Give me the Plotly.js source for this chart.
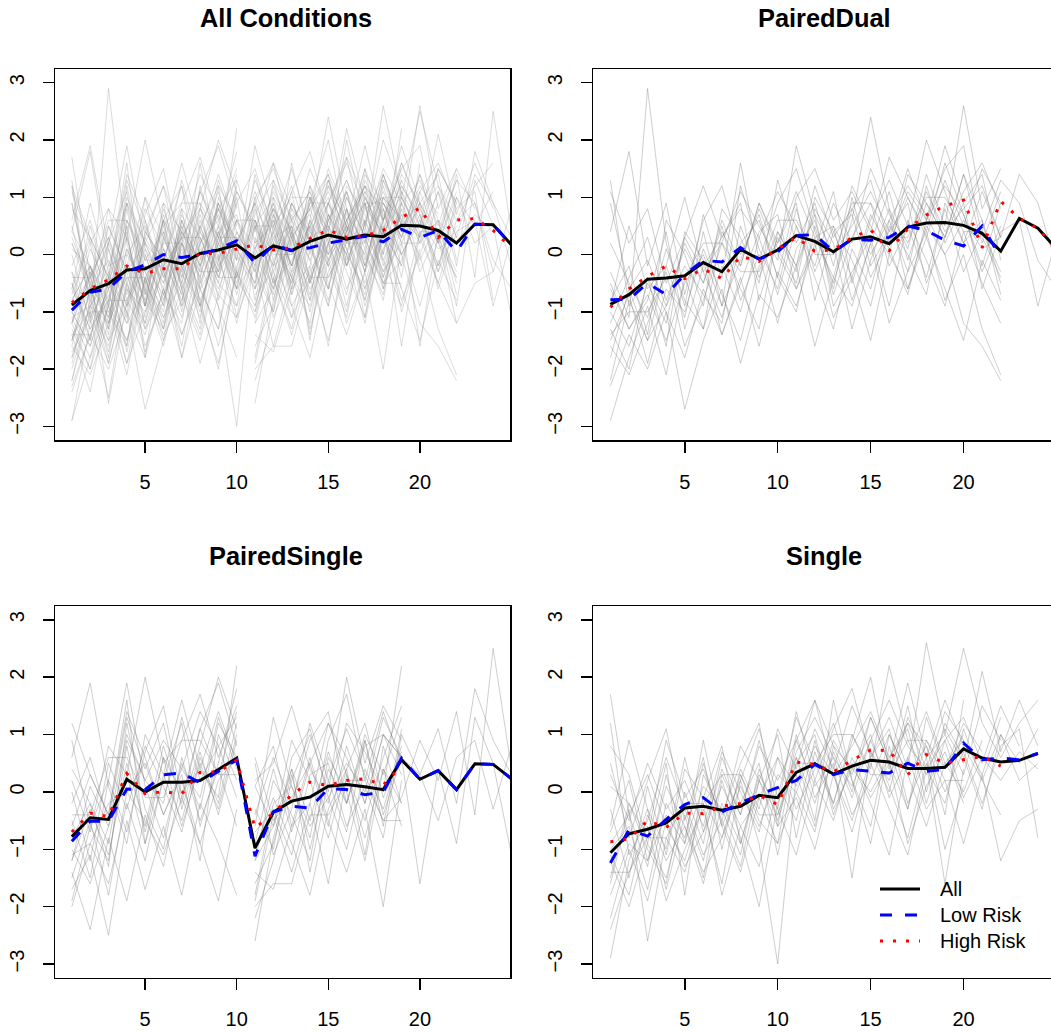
<!DOCTYPE html>
<html><head><meta charset="utf-8">
<script src="https://cdn.plot.ly/plotly-3.0.1.min.js"></script>
<style>html,body{margin:0;padding:0;background:#fff}#chart{width:1051px;height:1032px}</style>
</head><body><div id="chart"></div>
<script>
// ---- data ----
const timePoints = [1,2,3,4,5,6,7,8,9,10,11,12,13,14,15,16,17,18,19,20,21,22,23,24,25];
const lateTimePoints = [11,12,13,14,15,16,17,18,19,20,21,22,23,24,25];
const xTicks = [5,10,15,20];
const yTicks = [-3,-2,-1,0,1,2,3];
const panelTitles = ["All Conditions","PairedDual","PairedSingle","Single"];
const seriesNames = ["All","Low Risk","High Risk"];

// group means
const allMean = [-0.88,-0.63,-0.51,-0.27,-0.25,-0.09,-0.16,0.02,0.08,0.17,-0.06,0.15,0.07,0.23,0.34,0.27,0.34,0.31,0.51,0.50,0.42,0.20,0.53,0.52,0.17];
const allLow  = [-0.97,-0.66,-0.60,-0.30,-0.18,0.00,-0.05,0.00,0.10,0.24,-0.15,0.17,0.07,0.12,0.20,0.26,0.32,0.22,0.44,0.30,0.42,0.05,0.53,0.52,0.17];
const allHigh = [-0.84,-0.60,-0.44,-0.20,-0.33,-0.25,-0.25,0.02,0.02,0.10,0.17,0.08,0.12,0.28,0.43,0.30,0.33,0.42,0.65,0.81,0.30,0.60,0.63,0.42,0.12];

const pdMean = [-0.87,-0.70,-0.43,-0.41,-0.37,-0.14,-0.30,0.09,-0.08,0.08,0.33,0.23,0.05,0.27,0.31,0.19,0.48,0.55,0.56,0.51,0.37,0.06,0.63,0.46,0.10];
const pdLow  = [-0.79,-0.78,-0.50,-0.70,-0.35,-0.10,-0.13,0.12,-0.08,0.05,0.33,0.35,0.05,0.27,0.25,0.30,0.50,0.42,0.25,0.15,0.50,-0.05,null,null,null];
const pdHigh = [-0.92,-0.60,-0.38,-0.20,-0.42,-0.25,-0.42,-0.03,-0.12,0.10,0.30,0.06,0.08,0.30,0.43,0.07,0.45,0.69,0.85,0.95,0.12,0.93,0.63,0.46,0.10];

const psMean = [-0.78,-0.45,-0.48,0.22,0.00,0.17,0.17,0.20,0.39,0.59,-0.98,-0.35,-0.16,-0.09,0.10,0.13,0.09,0.04,0.56,0.22,0.37,0.04,0.49,0.48,0.23];
const psLow  = [-0.86,-0.51,-0.51,0.05,0.04,0.30,0.33,0.16,0.36,0.56,-1.12,-0.35,-0.25,-0.28,0.06,0.04,-0.05,0.00,0.59,0.22,0.37,0.04,0.49,0.48,0.23];
const psHigh = [-0.70,-0.37,-0.43,0.32,-0.03,0.00,-0.03,0.34,0.35,0.55,-0.63,-0.37,-0.05,0.17,0.11,0.20,0.23,0.12,0.45,null,null,null,null,null,null];

const sMean = [-1.06,-0.73,-0.65,-0.54,-0.28,-0.25,-0.32,-0.25,-0.06,-0.10,0.34,0.49,0.31,0.45,0.55,0.52,0.41,0.41,0.43,0.75,0.59,0.52,0.55,0.67];
const sLow  = [-1.24,-0.66,-0.77,-0.48,-0.22,-0.10,-0.35,-0.19,-0.05,0.07,0.20,0.48,0.30,0.39,0.36,0.33,0.50,0.36,0.39,0.85,0.56,0.59,0.56,0.67];
const sHigh = [-0.87,-0.82,-0.50,-0.62,-0.37,-0.38,-0.25,-0.20,-0.06,-0.22,0.52,0.48,0.35,0.55,0.73,0.72,0.30,0.65,0.50,0.56,0.62,0.45,null,null];

// individual trajectories (grey)
const pairedDualSubjects = [
 [-1.2,-0.4,0.3,-0.8,0.1,-0.5,0.6,-0.2,0.9,0.2,1.1,0.3,-0.4,0.8,1.3,0.2,1.0,0.4,1.6,0.7,-0.2,0.9],
 [0.9,-0.6,-1.5,-0.2,-1.1,0.4,-0.9,1.2,0.1,-0.6,0.8,-0.3,0.5,-0.8,0.2,1.1,-0.1,0.9,0.3,1.4,0.6,-0.5],
 [-2.9,-1.8,-0.9,-2.1,-0.4,-1.3,-0.2,-1.0,0.3,-0.7,0.5,-0.4,-1.3,0.1,-0.6,0.6,-0.3,1.2,0.2,0.9,-0.6,0.4,0.6,-0.9,0.3],
 [-0.3,-1.1,2.9,0.2,-0.9,0.7,-0.4,1.6,-0.1,0.9,1.5,0.4,-0.5,0.6,2.4,0.8,0.1,1.4,0.5,2.6,0.8,1.5],
 [-1.6,-2.1,-1.2,-0.3,-1.6,-0.8,0.2,-0.6,-1.3,0.4,-0.2,0.7,-0.9,-0.3,0.3,-0.9,0.6,-0.1,-0.9,0.4,-0.5,-1.2],
 [0.4,1.8,-0.2,0.9,-0.7,0.6,1.2,0.0,0.7,-0.4,1.0,1.5,0.6,1.1,0.4,1.7,1.0,0.3,1.3,0.5,1.5,0.9],
 [-2.3,-1.4,-2.0,-1.0,-2.7,-1.5,-0.6,-1.9,-0.7,-1.1,-0.2,-1.6,-0.4,-0.9,0.2,-1.2,-0.3,0.4,-0.8,0.0,-1.3,-2.1],
 [-0.8,-0.2,-1.4,0.6,0.0,-0.9,0.8,0.3,-0.5,1.3,0.2,0.9,-0.2,1.2,0.5,0.0,1.4,0.9,0.3,1.1,1.6,0.8],
 [-1.0,-1.6,-0.5,-1.2,0.3,-0.3,-1.1,0.2,0.6,-0.4,-1.0,0.5,-0.7,0.3,0.9,-0.2,0.5,-0.4,0.8,-0.3,0.4,1.3,0.9,-0.1,-0.6],
 [1.3,-0.9,-0.4,-1.6,0.4,-0.1,-1.4,-0.5,0.4,0.7,-0.6,0.1,1.1,-0.5,0.6,1.3,0.5,2.0,1.1,0.2,1.1,0.3],
 [-1.5,-0.7,-1.9,-0.6,-1.0,0.1,-0.7,-1.5,-0.2,0.2,0.9,-0.8,0.4,0.7,-0.4,0.3,1.1,0.6,1.5,1.9,0.3,-0.4],
 [-0.5,-1.3,-0.8,0.4,-1.3,-0.2,0.3,0.9,-0.8,0.3,-0.3,0.8,0.2,-1.3,-0.1,0.8,-0.6,0.5,0.0,-1.2,-1.6,-2.2],
 [-1.4,-1.0,-1.0,-0.4,-0.4,0.2,0.2,-0.3,-0.3,0.6,0.6,0.0,0.0,0.9,0.9,0.3,0.3,1.0,1.0,0.4,0.4,-0.3],
 [0.2,-0.5,-1.1,0.1,-0.8,-1.3,0.4,-0.2,0.9,0.1,-0.5,1.0,0.4,-0.4,0.7,0.1,-0.7,0.6,1.2,0.7,-0.3,0.5],
 [-2.2,-0.8,-1.5,-0.9,0.2,-0.5,0.5,-0.8,0.0,-1.2,0.1,0.6,-0.6,1.0,-0.2,0.4,0.9,-0.5,0.3,1.4,0.2,1.1],
 [-0.9,0.5,-0.6,-0.2,1.0,-0.3,0.2,1.1,0.5,-0.1,1.9,0.7,0.0,0.5,1.1,0.4,1.5,0.6,1.9,0.9,1.4,-0.1],
 [-1.3,-2.0,-0.4,-1.0,-1.8,-0.6,-1.4,-0.4,-1.6,-0.3,-0.9,0.2,-1.1,-0.4,-1.5,0.0,-0.6,0.3,-0.6,-1.5,-0.1,-0.8],
 [1.1,0.2,0.8,-0.5,0.3,1.2,0.3,0.8,0.3,1.1,0.5,-0.2,0.9,0.2,1.5,0.7,0.2,1.1,0.4,0.8,1.2,0.3,1.4,0.9,-0.2],
 [-0.6,-1.3,-0.7,-1.5,-0.5,0.0,-0.9,-0.1,0.8,0.0,-0.6,0.3,0.5,-0.1,-0.9,0.5,0.0,-0.7,0.9,0.2,0.6,-0.7],
 [-1.8,-0.6,-0.1,-0.9,-0.2,-0.7,-1.2,0.5,-0.4,0.4,-0.2,1.2,0.3,0.8,0.0,0.6,1.2,0.7,0.0,0.6,0.1,0.3]
];
const pairedSingleEarly = [
 [-1.2,-0.3,-1.1,0.5,-0.6,0.8,-0.2,1.1,0.3,1.4],
 [0.9,-0.6,0.2,1.9,0.1,-0.8,0.5,-0.3,1.2,0.6],
 [-2.0,-0.9,-1.6,-0.2,-1.2,0.3,-0.5,0.7,-0.4,0.9],
 [0.6,1.9,0.1,-0.9,1.0,0.3,1.6,0.4,-0.1,2.2],
 [-1.4,-2.4,-0.8,-1.9,-0.4,-1.3,0.2,-0.9,-1.9,-0.3],
 [-0.2,0.6,-0.5,1.3,0.4,1.2,-0.3,0.8,2.0,1.1],
 [-1.7,-1.1,-2.5,-0.5,-1.7,-0.6,-1.8,-0.2,-0.9,-1.8],
 [0.2,-0.7,0.8,0.3,2.0,0.5,0.9,1.7,0.6,1.5],
 [-0.8,-0.2,-1.3,1.2,-0.3,-1.0,0.6,-0.5,0.4,-0.6],
 [-0.5,-1.5,0.2,-0.7,0.7,1.5,-0.1,1.1,1.9,0.8],
 [1.2,0.3,-0.4,1.6,-0.9,0.2,1.2,-0.6,0.5,1.8],
 [-1.1,-0.9,-0.2,0.0,0.5,-0.4,0.3,-1.2,1.0,0.2],
 [-0.4,-0.4,0.6,0.6,-0.1,-0.1,0.9,0.9,0.3,0.3],
 [-1.9,-0.6,-1.2,0.8,-0.7,0.6,0.0,0.4,1.4,0.5],
 [0.4,-0.2,-0.9,0.9,0.2,-0.2,1.3,0.2,0.8,1.3],
 [-1.0,-1.6,-0.6,0.3,-0.9,0.6,-0.6,0.5,-0.3,1.0],
 [-0.6,0.3,-0.4,1.4,0.6,-0.4,0.4,1.4,0.8,-0.1],
 [-1.5,-0.5,-1.8,0.0,-0.5,-1.1,-0.1,-0.9,0.2,0.6],
 [0.0,-1.2,0.5,-0.3,0.8,0.1,-0.7,0.6,-0.2,1.2],
 [-1.2,0.1,-0.6,1.0,0.2,0.9,0.4,-0.1,1.3,0.4]
];
const pairedSingleLate = [
 [-2.6,-0.8,0.4,-0.5,0.7,-0.2,1.0,0.3,1.3],
 [0.5,-1.1,-0.3,1.2,0.2,-0.7,0.9,-0.4,0.6],
 [-1.9,-0.4,-1.4,-0.2,-1.6,0.3,-0.8,0.4,-0.6],
 [-0.6,1.3,0.1,-0.8,0.9,1.7,0.2,1.4,0.5],
 [-1.4,-1.7,-0.6,0.6,-0.5,-1.4,-0.3,-2.0,0.2],
 [0.2,0.5,1.5,0.4,-0.2,1.2,0.7,0.0,2.2],
 [-1.0,-0.1,-0.9,-1.8,-0.3,0.4,-1.1,0.8,-0.2],
 [-2.2,-1.2,0.2,1.0,0.0,2.0,0.5,1.5,0.9],
 [-2.0,-1.6,-1.6,-0.4,-0.4,0.2,0.2,-0.5,-0.5],
 [-0.9,0.4,-0.7,0.5,-0.6,0.8,-0.2,1.0,0.3],
 [-1.6,-0.9,0.3,-1.0,0.4,-0.2,0.9,-0.6,1.1],
 [0.1,-0.6,0.9,0.2,-0.8,0.4,1.2,-0.1,0.7],
 [-1.2,0.2,-0.4,-1.2,0.6,0.0,-1.2,0.4,-0.2],
 [-0.3,-1.0,0.6,1.1,-0.1,0.5,0.0,1.3,0.6],
 [-1.8,-0.2,0.1,-0.6,-0.1,-1.0,0.4,-0.3,0.8],
 [0.6,-0.5,-0.1,0.5,1.2,0.3,-0.5,0.6,1.5],
 [-0.7,-0.3,-1.1,0.3,0.5,-0.6,0.1,-0.8,1.0,0.3,1.1,-0.2,1.8,0.9,0.3],
 [0.1,0.8,-0.6,-0.2,1.2,0.6,-0.2,1.0,0.6,-1.6,0.4,-0.9,1.3,0.5,-1.1],
 [-1.2,-0.6,0.4,-1.4,0.2,1.1,0.3,-0.5,-0.1,0.9,0.2,1.4,-0.4,2.5,0.4],
 [-0.4,0.6,-0.2,0.9,1.4,-0.2,0.8,1.0,0.6,0.3,-0.5,0.6,0.9,-0.3,0.8]
];
const singleSubjects = [
 [-2.9,-1.2,-0.3,-1.7,-0.4,-1.5,0.2,-0.8,-2.0,-0.2,0.6,-0.5,1.6,0.2,-0.9,0.8,-0.3,1.3,0.4,1.0],
 [1.7,-0.4,-1.3,0.3,-0.9,0.9,-0.6,0.2,1.1,-0.1,1.3,0.5,-0.2,1.0,0.4,2.2,0.9,0.3,1.1,0.5,2.1,0.7,1.6,0.8],
 [-1.2,-2.0,-0.9,-1.5,-0.2,-1.1,-0.5,-1.3,0.2,-0.6,-0.1,-1.0,0.3,-0.7,0.5,-0.3,-1.1,0.4,-0.2,1.1,0.2,-0.4],
 [0.5,-0.8,0.2,1.1,-0.5,0.6,-1.0,0.4,-0.3,1.1,0.4,1.6,0.8,0.0,1.3,0.5,1.9,0.6,1.0,2.5,1.2,0.6,1.2,1.6],
 [-1.6,-0.3,-2.6,-0.8,-1.4,-0.2,-1.8,-0.6,-1.3,0.1,-0.5,0.9,-0.4,0.5,-0.2,-1.1,0.6,-0.3,0.2,-0.9,0.3,-1.2,-0.5,-0.3],
 [-0.6,0.9,-0.3,-1.0,0.6,-0.7,0.4,-0.4,0.9,-0.3,1.4,0.2,1.1,1.8,0.6,1.3,0.4,2.6,1.0,0.3,1.5,0.9],
 [-2.4,-1.4,-0.6,-1.9,-1.0,-0.3,-1.6,0.2,-0.9,-3.0,0.3,-0.6,0.7,-0.1,0.9,0.1,-0.8,0.5,-1.6,0.4],
 [1.2,-1.1,-0.5,0.6,-0.3,-1.2,0.3,-0.4,0.8,0.2,0.9,1.6,0.3,0.8,1.4,0.6,1.1,-0.2,0.9,1.3,0.5,1.5,0.8],
 [-1.0,-0.6,-1.7,-0.2,-0.8,0.5,-0.6,-1.4,-0.1,0.6,-0.3,0.4,1.2,0.2,-0.6,1.0,0.3,0.8,0.0,0.7,-0.2,0.8,1.1,-0.8],
 [-0.3,-1.5,0.1,-1.1,0.4,-0.1,0.8,-0.9,0.2,1.0,-0.8,0.7,-0.2,0.9,2.0,0.4,1.2,0.8,-0.4,1.6],
 [0.8,0.3,-0.9,0.5,-1.8,0.3,-0.4,0.5,1.2,-0.6,1.0,-0.1,0.5,-1.5,0.7,0.2,1.5,0.0,1.2,0.6,-0.3,1.0,0.2,0.5],
 [-1.8,-0.9,-1.2,0.1,-0.6,-1.4,-0.8,0.3,-0.5,-0.9,0.0,0.8,0.3,-0.5,0.6,1.1,-0.2,0.6,-1.0,0.1],
 [-1.4,-1.4,-0.8,-0.8,-0.2,-0.2,0.3,0.3,-0.4,-0.4,0.5,0.5,1.0,1.0,0.3,0.3,0.9,0.9,0.2,0.2],
 [-0.7,0.2,-1.2,-0.4,-0.9,0.1,-0.3,-1.1,0.4,-0.5,0.6,-0.2,0.9,0.3,1.3,0.5,-0.3,0.9,0.4,1.2,0.7],
 [-2.2,-1.0,-1.9,-0.5,-1.3,-0.7,0.1,-0.6,-0.1,-0.9,0.9,0.1,0.6,-0.4,0.2,1.0,0.3,-0.6,0.5,0.0,0.9],
 [0.3,-0.5,0.5,-0.3,0.2,-0.6,0.7,0.0,-0.7,0.6,0.1,1.1,0.4,1.5,0.7,0.0,1.3,0.6,1.6,0.8,0.2,1.0,0.5,1.1],
 [-1.1,-1.8,-0.4,-1.2,-0.6,-1.6,-0.2,-0.9,0.3,-0.3,-1.1,0.2,-0.5,0.6,-0.1,0.5,-0.9,0.1,0.7,-0.2],
 [0.1,-0.2,-0.8,0.9,-0.1,0.4,-0.5,0.8,0.2,-0.4,0.7,1.3,0.6,0.1,0.9,1.6,0.8,0.4,1.4,0.9,0.3,1.3],
 [-0.9,-0.4,0.3,-0.6,-1.2,-0.1,-0.8,0.1,-0.6,0.3,0.0,-0.7,0.8,0.4,0.0,0.6,1.2,0.4,0.9,-0.1,0.6,0.2,0.7,0.4],
 [-1.5,-0.2,-1.0,-1.6,0.0,-0.9,0.6,-0.2,0.5,-1.1,0.5,1.0,-0.3,0.4,1.0,-0.1,0.6,1.4,0.5,0.9]
];

// ---- build ----
const FONT = "Liberation Sans, Arial, Helvetica, sans-serif";
const traces = [];
function addGrey(list, xs, ax, color) {
  list.forEach(ys => traces.push({
    type: 'scatter', mode: 'lines', x: xs.slice(0, ys.length), y: ys,
    xaxis: 'x' + ax, yaxis: 'y' + ax, line: {color: color, width: 1},
    hoverinfo: 'skip', showlegend: false
  }));
}
function addMeans(ax, m, lo, hi) {
  const xs = timePoints.slice(0, m.length);
  traces.push({type:'scatter', mode:'lines', x: xs, y: m, xaxis:'x'+ax, yaxis:'y'+ax,
    name: seriesNames[0], showlegend: false, line:{color:'#000000', width:3}});
  traces.push({type:'scatter', mode:'lines', x: xs, y: lo, xaxis:'x'+ax, yaxis:'y'+ax,
    name: seriesNames[1], showlegend: false, line:{color:'#0000ff', width:3, dash:'12px,13px'}});
  traces.push({type:'scatter', mode:'lines', x: xs, y: hi, xaxis:'x'+ax, yaxis:'y'+ax,
    name: seriesNames[2], showlegend: false, line:{color:'#ff0000', width:3, dash:'3px,10px'}});
}
const greyAll = 'rgba(140,140,140,0.3)';
const greyOne = 'rgba(120,120,120,0.36)';
addGrey(pairedDualSubjects, timePoints, '', greyAll);
addGrey(pairedSingleEarly, timePoints, '', greyAll);
addGrey(pairedSingleLate, lateTimePoints, '', greyAll);
addGrey(singleSubjects, timePoints, '', greyAll);
addGrey(pairedDualSubjects, timePoints, '2', greyOne);
addGrey(pairedSingleEarly, timePoints, '3', greyOne);
addGrey(pairedSingleLate, lateTimePoints, '3', greyOne);
addGrey(singleSubjects, timePoints, '4', greyOne);
addMeans('', allMean, allLow, allHigh);
addMeans('2', pdMean, pdLow, pdHigh);
addMeans('3', psMean, psLow, psHigh);
addMeans('4', sMean, sLow, sHigh);

const W = 1051, H = 1032;
const leftDom = [55/W, 510/W], rightDom = [593.3/W, 1];
const topDom = [(H-440)/H, (H-69)/H], botDom = [(H-977.7)/H, (H-606)/H];
function xax(dom, anchor, right) {
  return {domain: dom, anchor: anchor, range: right ? [0.08, 24.705] : [0.08, 24.92],
    tickmode:'array', tickvals: xTicks, ticks:'outside', ticklen: 11, tickwidth: 1.5, tickcolor:'#000',
    showline:true, linecolor:'#000', linewidth:1.5, mirror:true, showgrid:false, zeroline:false,
    ticklabelstandoff: 12, tickfont:{family: FONT, size: 20, color:'#000'}};
}
function yax(dom, anchor, right) {
  return {domain: dom, anchor: anchor, range: [-3.238, 3.24],
    tickmode:'array', tickvals: yTicks, ticks:'outside', ticklen: 11, tickwidth: 1.5, tickcolor:'#000',
    showline:true, linecolor:'#000', linewidth:1.5, mirror: !right, showgrid:false, zeroline:false,
    tickangle: -90, ticklabelstandoff: 11, tickfont:{family: FONT, size: 20, color:'#000'}};
}
const titlePos = [[286, 18], [824, 18], [286, 556], [824, 556]];
const annotations = panelTitles.map((t, i) => ({text: t, xref:'paper', yref:'paper',
  x: titlePos[i][0]/W, y: 1 - titlePos[i][1]/H, xanchor:'center', yanchor:'middle', showarrow:false,
  font:{family: FONT, size: 25.4, weight: 700, color:'#000'}}));
// manual legend (bottom-right panel)
const legendRows = [889, 915, 941];
const legendStyles = [{color:'#000000', width:3}, {color:'#0000ff', width:3, dash:'12px,13px'}, {color:'#ff0000', width:3, dash:'3px,10px'}];
const shapes = legendRows.map((py, i) => ({type:'line', xref:'paper', yref:'paper',
  x0: 880/W, x1: 920/W, y0: 1 - py/H, y1: 1 - py/H, line: legendStyles[i]}));
legendRows.forEach((py, i) => annotations.push({text: seriesNames[i], xref:'paper', yref:'paper',
  x: 938/W, y: 1 - py/H, xanchor:'left', yanchor:'middle', showarrow:false,
  font:{family: FONT, size: 20, color:'#000'}}));
const layout = {
  width: W, height: H, margin:{l:0, r:0, t:0, b:0},
  paper_bgcolor:'#fff', plot_bgcolor:'#fff', font:{family: FONT, color:'#000'},
  xaxis: xax(leftDom, 'y', false), yaxis: yax(topDom, 'x', false),
  xaxis2: xax(rightDom, 'y2', true), yaxis2: yax(topDom, 'x2', true),
  xaxis3: xax(leftDom, 'y3', false), yaxis3: yax(botDom, 'x3', false),
  xaxis4: xax(rightDom, 'y4', true), yaxis4: yax(botDom, 'x4', true),
  showlegend: false, annotations: annotations, shapes: shapes
};
Plotly.newPlot('chart', traces, layout, {staticPlot: true, displayModeBar: false});
</script></body></html>
